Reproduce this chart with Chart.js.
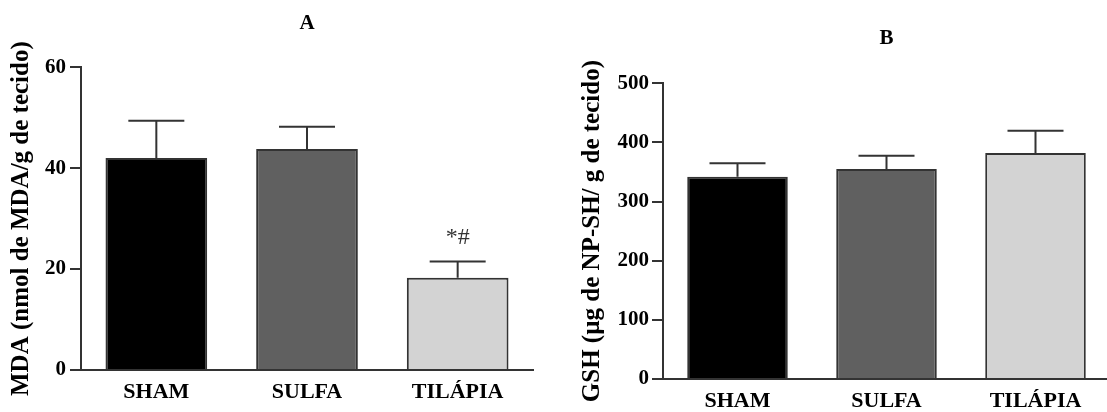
<!DOCTYPE html>
<html>
<head>
<meta charset="utf-8">
<script src="https://cdn.jsdelivr.net/npm/chart.js@4"></script>
<style>
  body { margin: 0; background: #fff; overflow: hidden; }
  .box { position: absolute; top: 0; }
</style>
</head>
<body>
<div class="box" style="left:0"><canvas id="chartA" width="540" height="412"></canvas></div>
<div class="box" style="left:550px"><canvas id="chartB" width="560" height="412"></canvas></div>
<script>
var groups = ['SHAM', 'SULFA', 'TILÁPIA'];
var barColors = ['#000000', '#606060', '#d3d3d3'];

// painel A - MDA
var mdaMean = [42, 43.8, 18.3];
var mdaSem = [7.4, 4.4, 3.2];
var mdaMarks = ['', '', '*#'];

// painel B - GSH
var gshMean = [342, 355, 382];
var gshSem = [22.6, 22.4, 37.6];

var serif = '"Liberation Serif", "Times New Roman", serif';

// barras de erro (so para cima) + marcas de significancia
var errorBars = {
  id: 'errorBars',
  afterDatasetsDraw(chart, args, opts) {
    var meta = chart.getDatasetMeta(0);
    var y = chart.scales.y;
    var ctx = chart.ctx;
    ctx.save();
    ctx.strokeStyle = '#333';
    ctx.lineWidth = 2;
    meta.data.forEach(function (bar, i) {
      var top = y.getPixelForValue(opts.means[i] + opts.errors[i]);
      ctx.beginPath();
      ctx.moveTo(bar.x, bar.y);
      ctx.lineTo(bar.x, top);
      ctx.moveTo(bar.x - opts.cap / 2, top);
      ctx.lineTo(bar.x + opts.cap / 2, top);
      ctx.stroke();
      if (opts.marks && opts.marks[i]) {
        ctx.fillStyle = '#333';
        ctx.font = '24px ' + serif;
        ctx.textAlign = 'center';
        ctx.textBaseline = 'middle';
        ctx.fillText(opts.marks[i], bar.x, top - 24);
      }
    });
    ctx.restore();
  }
};

function makeChart(id, cfg) {
  return new Chart(document.getElementById(id), {
    type: 'bar',
    data: {
      labels: groups,
      datasets: [{
        data: cfg.means,
        backgroundColor: barColors,
        borderColor: '#333',
        borderWidth: 2,
        barPercentage: 0.675,
        categoryPercentage: 1
      }]
    },
    options: {
      responsive: false,
      animation: false,
      layout: { padding: { left: 0, right: cfg.right, top: 0, bottom: 0 } },
      plugins: {
        legend: { display: false },
        tooltip: { enabled: false },
        title: {
          display: true,
          fullSize: false,
          text: cfg.title,
          color: '#000',
          font: { family: serif, size: 21, weight: 'bold' },
          padding: { top: cfg.titleTop, bottom: cfg.titleBottom }
        },
        errorBars: { means: cfg.means, errors: cfg.errors, cap: 56, marks: cfg.marks }
      },
      scales: {
        x: {
          grid: { display: false, drawTicks: false },
          border: { color: '#333', width: 2 },
          ticks: { color: '#000', padding: 9, font: { family: serif, size: 22, weight: 'bold' } },
          afterFit: function (s) { s.height = cfg.xHeight; }
        },
        y: {
          min: 0,
          max: cfg.max,
          ticks: { stepSize: cfg.step, color: '#000', padding: cfg.tickPad, font: { family: serif, size: 21, weight: 'bold' } },
          grid: { drawOnChartArea: false, drawTicks: true, tickLength: 11, color: '#333', lineWidth: 2 },
          border: { color: '#333', width: 2 },
          title: {
            display: true,
            text: cfg.yTitle,
            color: '#000',
            font: { family: serif, size: 25, weight: 'bold' },
            padding: { top: cfg.yTitlePad, bottom: 0 }
          },
          afterFit: function (s) { s.width = cfg.yWidth; }
        }
      }
    },
    plugins: [errorBars]
  });
}

makeChart('chartA', {
  title: 'A', means: mdaMean, errors: mdaSem, marks: mdaMarks,
  max: 60, step: 20, yTitle: 'MDA (nmol de MDA/g de tecido)',
  right: 7, yWidth: 81, xHeight: 42, tickPad: 4, yTitlePad: 7,
  titleTop: 11, titleBottom: 31
});

makeChart('chartB', {
  title: 'B', means: gshMean, errors: gshSem, marks: null,
  max: 500, step: 100, yTitle: 'GSH (µg de NP-SH/ g de tecido)',
  right: 0, yWidth: 113, xHeight: 33, tickPad: 3, yTitlePad: 28,
  titleTop: 26, titleBottom: 32
});
</script>
</body>
</html>
